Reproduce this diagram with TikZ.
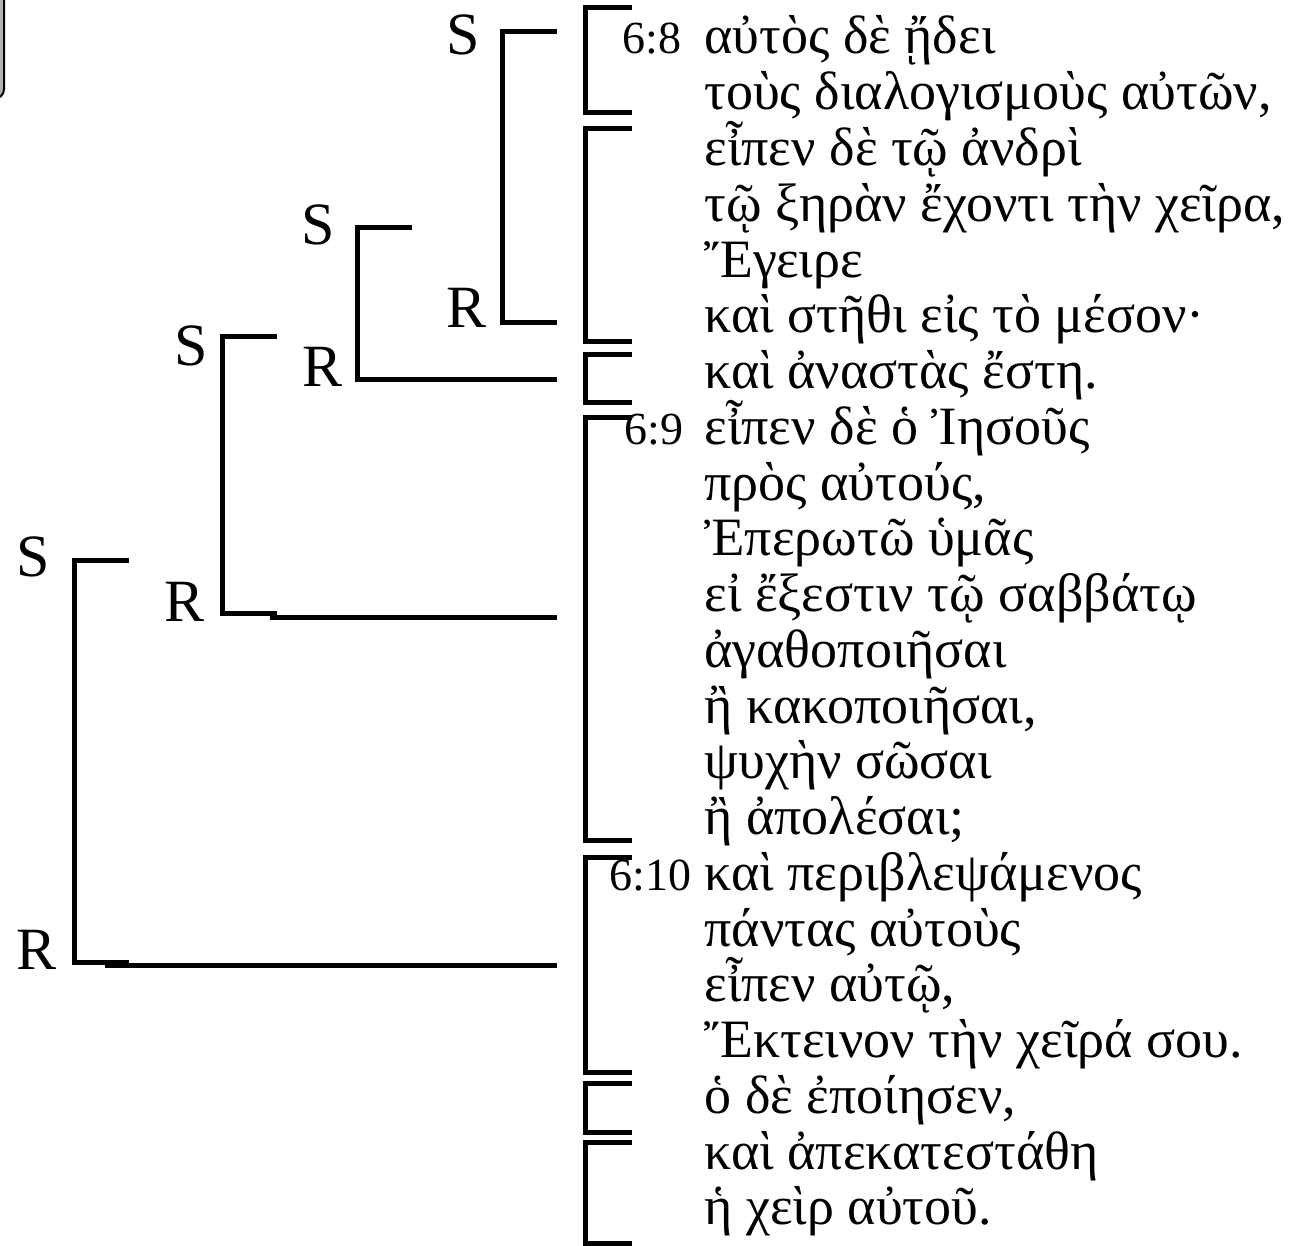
\documentclass[tikz,border=0pt]{standalone}
\usepackage{fontspec}
\setmainfont{Liberation Serif}
\usetikzlibrary{positioning}

\begin{document}
\begin{tikzpicture}[x=0.5pt, y=-0.5pt, line width=2.5pt,
  lbl/.style={font=\fontsize{30}{30}\selectfont, inner sep=0pt},
  num/.style={font=\fontsize{23}{23}\selectfont, anchor=base west, inner sep=0pt},
  txt/.style={font=\fontsize{27}{27}\selectfont, anchor=base west, inner sep=0pt}]
\useasboundingbox (0,0) rectangle (1291,1246);
\node[draw, line width=1pt, fill=black!30, rounded corners=5pt, minimum width=60pt, minimum height=80pt, anchor=south east] (legend) at (5,100) {};
% brackets in front of the clauses
\foreach \a/\b in {8/113,129/342,355/402,417/840,857/1072,1083/1132,1142/1243}
  \draw (632,\a) -- (585,\a) -- (585,\b) -- (632,\b);
% S/R brackets of the tree
\foreach \n/\x/\a/\b in {4/502/32/323, 3/357/228/380, 2/222/337/613, 1/74/560/962} {
  \coordinate (top\n) at (\x,\a);
  \coordinate (bot\n) at (\x,\b);
  \draw ([xshift=55*0.5pt]top\n) -- (top\n) -- (bot\n) -- ([xshift=55*0.5pt]bot\n);
}
\coordinate (end4a) at (557,32);
\coordinate (end4b) at (557,323);
\coordinate (end3) at (557,380);
\coordinate (end2) at (557,617);
\coordinate (end1) at (557,965);
\draw (top4) -- (end4a);
\draw (bot4) -- (end4b);
\draw ([xshift=50*0.5pt]bot3) -- (end3);
\draw ([xshift=48*0.5pt,yshift=-2pt]bot2) -- (end2);
\draw ([xshift=31*0.5pt,yshift=-1.5pt]bot1) -- (end1);
% labels
\node[lbl] (s4) at (463,35) {S};
\node[lbl] (r4) at (467,308) {R};
\node[lbl] (s3) at (318,225) {S};
\node[lbl] (r3) at (323,367) {R};
\node[lbl] (s2) at (191,346) {S};
\node[lbl] (r2) at (185,602) {R};
\node[lbl] (s1) at (33,557) {S};
\node[lbl] (r1) at (37,950) {R};
% verse numbers
\node[num] (v8) at (620,54) {6:8};
\node[num] (v9) at (622,{54+7*55.76}) {6:9};
\node[num] (v10) at (607,{54+15*55.76}) {6:10};
% clauses
\foreach \k/\t in {1/{αὐτὸς δὲ ᾔδει}, 2/{τοὺς διαλογισμοὺς αὐτῶν,}, 3/{εἶπεν δὲ τῷ ἀνδρὶ},
  4/{τῷ ξηρὰν ἔχοντι τὴν χεῖρα,}, 5/{Ἔγειρε}, 6/{καὶ στῆθι εἰς τὸ μέσον·}, 7/{καὶ ἀναστὰς ἔστη.},
  8/{εἶπεν δὲ ὁ Ἰησοῦς}, 9/{πρὸς αὐτούς,}, 10/{Ἐπερωτῶ ὑμᾶς}, 11/{εἰ ἔξεστιν τῷ σαββάτῳ},
  12/{ἀγαθοποιῆσαι}, 13/{ἢ κακοποιῆσαι,}, 14/{ψυχὴν σῶσαι}, 15/{ἢ ἀπολέσαι;},
  16/{καὶ περιβλεψάμενος}, 17/{πάντας αὐτοὺς}, 18/{εἶπεν αὐτῷ,}, 19/{Ἔκτεινον τὴν χεῖρά σου.},
  20/{ὁ δὲ ἐποίησεν,}, 21/{καὶ ἀπεκατεστάθη}, 22/{ἡ χεὶρ αὐτοῦ.}}
  \node[txt] (l\k) at (702,{54+(\k-1)*55.76}) {\t};
\end{tikzpicture}
\end{document}
